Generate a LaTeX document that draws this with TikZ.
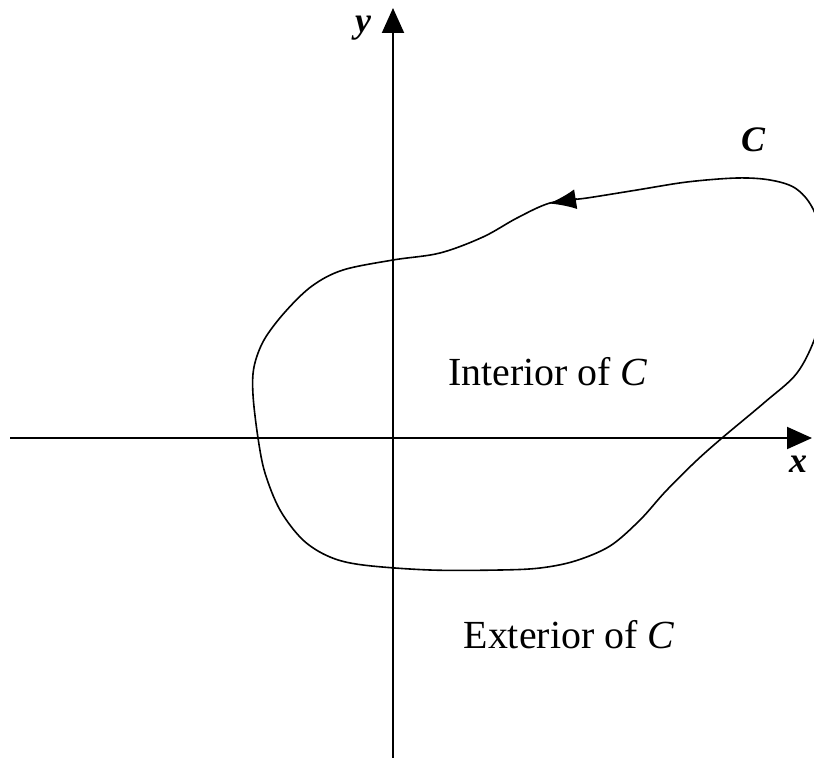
\documentclass[tikz,border=0pt]{standalone}
\usepackage{fontspec}
\setmainfont{Liberation Serif}
\usetikzlibrary{arrows.meta}
\tikzset{
  axis/.style={line width=2bp, -{Triangle[length=25bp,width=22bp]}},
  curveline/.style={line width=1.6bp},
  lbl/.style={font=\fontsize{40}{44}\selectfont, inner sep=0pt},
  axlbl/.style={font=\fontsize{36}{40}\selectfont\bfseries\itshape, inner sep=0pt}
}
\begin{document}
\begin{tikzpicture}[x=1bp,y=-1bp]
\useasboundingbox (0,0) rectangle (814,758);
% axes
\coordinate (xs) at (10,438);
\coordinate (xe) at (812,438);
\coordinate (ys) at (393,758);
\coordinate (ye) at (393,8);
\draw[axis] (xs) -- (xe);
\draw[axis] (ys) -- (ye);
\node[axlbl] (ylab) at (363,28) {y};
\node[axlbl] (xlab) at (798,464) {x};
\node[axlbl] (clab) at (753,140) {C};
% curve
\begin{scope}
\clip (0,0) rectangle (814,758);
\draw[curveline, smooth cycle, tension=0.55] plot coordinates {
(550,203) (517,218) (483,237) (440,253) (393,260) (343,270) (312,286)
(285,312) (264,340) (254,367) (253,395) (258,438) (265,473) (280,510)
(303,540) (330,557) (363,565) (430,570) (500,570) (540,568) (575,561)
(610,546) (640,520) (665,492) (695,462) (722,438) (765,402) (797,373)
(816,335) (826,290) (824,242) (812,207) (795,188) (770,180) (737,178)
(687,182) (637,190) (587,198)};
\end{scope}
\coordinate (ta) at (577,199);
\coordinate (tb) at (549,203.5);
\draw[line width=1.6bp, -{Latex[length=27bp,width=20bp]}] (ta) -- (tb);
\node[lbl] (int) at (548,372) {Interior of \textit{C}};
\node[lbl] (ext) at (569,635) {Exterior of \textit{C}};
\end{tikzpicture}
\end{document}
